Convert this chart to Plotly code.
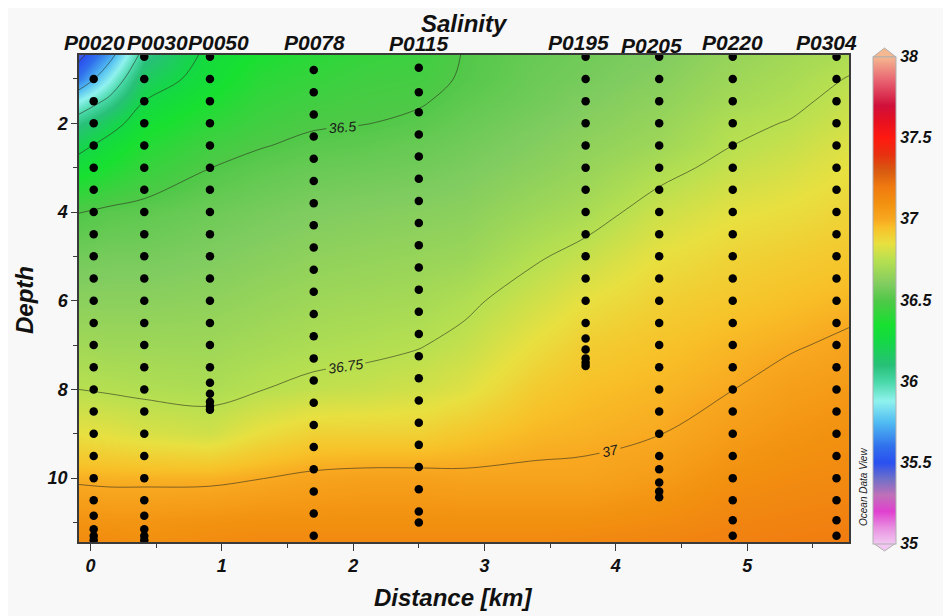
import plotly.graph_objects as go

# Salinity section (ODV style)
grid_dist = [-0.09, 0.15, 0.41, 0.91, 1.3, 1.7, 2.1, 2.5, 2.85, 3.4, 3.77, 4.33, 4.89, 5.33, 5.78]
grid_depth = [0.46, 1.0, 1.5, 2.0, 2.5, 3.0, 4.0, 5.0, 6.0, 7.0, 8.0, 9.0, 10.0, 11.0, 11.44]

# one row per depth, one column per distance
salinity = [
    [35.45, 35.70, 36.06, 36.29, 36.36, 36.40, 36.43, 36.45, 36.505, 36.55, 36.57, 36.60, 36.66, 36.69, 36.72],
    [35.62, 35.88, 36.17, 36.31, 36.40, 36.43, 36.46, 36.47, 36.51, 36.56, 36.58, 36.62, 36.68, 36.71, 36.755],
    [35.88, 36.04, 36.25, 36.36, 36.43, 36.46, 36.48, 36.49, 36.53, 36.57, 36.60, 36.64, 36.70, 36.73, 36.78],
    [36.08, 36.20, 36.32, 36.41, 36.46, 36.49, 36.498, 36.52, 36.55, 36.59, 36.62, 36.66, 36.73, 36.755, 36.80],
    [36.21, 36.30, 36.38, 36.46, 36.495, 36.52, 36.53, 36.55, 36.57, 36.61, 36.64, 36.68, 36.75, 36.78, 36.83],
    [36.31, 36.37, 36.43, 36.499, 36.53, 36.55, 36.56, 36.57, 36.59, 36.63, 36.66, 36.72, 36.78, 36.81, 36.85],
    [36.498, 36.52, 36.53, 36.56, 36.58, 36.60, 36.61, 36.62, 36.63, 36.68, 36.71, 36.79, 36.84, 36.86, 36.89],
    [36.57, 36.58, 36.58, 36.60, 36.62, 36.64, 36.65, 36.66, 36.67, 36.74, 36.78, 36.85, 36.89, 36.91, 36.93],
    [36.63, 36.63, 36.63, 36.64, 36.66, 36.68, 36.69, 36.70, 36.73, 36.80, 36.85, 36.90, 36.93, 36.95, 36.97],
    [36.69, 36.68, 36.68, 36.68, 36.70, 36.72, 36.73, 36.745, 36.775, 36.86, 36.91, 36.94, 36.97, 36.99, 37.02],
    [36.75, 36.74, 36.73, 36.72, 36.748, 36.77, 36.78, 36.80, 36.83, 36.92, 36.95, 36.97, 36.999, 37.04, 37.06],
    [36.85, 36.84, 36.82, 36.80, 36.86, 36.90, 36.90, 36.90, 36.93, 36.97, 36.98, 36.998, 37.05, 37.08, 37.10],
    [36.985, 36.98, 36.98, 36.98, 36.998, 37.02, 37.03, 37.03, 37.02, 37.02, 37.02, 37.05, 37.10, 37.12, 37.13],
    [37.09, 37.08, 37.08, 37.09, 37.10, 37.10, 37.10, 37.10, 37.10, 37.10, 37.10, 37.12, 37.15, 37.16, 37.17],
    [37.12, 37.12, 37.10, 37.12, 37.13, 37.13, 37.13, 37.13, 37.13, 37.13, 37.14, 37.15, 37.17, 37.18, 37.19],
]

# stations and their sample depths
stations = ["P0020", "P0030", "P0050", "P0078", "P0115", "P0195", "P0205", "P0220", "P0304"]
station_dist = [0.025, 0.41, 0.91, 1.70, 2.50, 3.77, 4.33, 4.89, 5.68]
station_depths = [
    [1.0, 1.5, 2.0, 2.5, 3.0, 3.5, 4.0, 4.5, 5.0, 5.5, 6.0, 6.5, 7.0, 7.5, 8.0, 8.5, 9.0, 9.5, 10.0, 10.5,
     10.85, 11.15, 11.3, 11.4],
    [0.5, 1.0, 1.5, 2.0, 2.5, 3.0, 3.5, 4.0, 4.5, 5.0, 5.5, 6.0, 6.5, 7.0, 7.5, 8.0, 8.5, 9.0, 9.5, 10.0, 10.5,
     10.85, 11.15, 11.3, 11.4],
    [0.5, 1.0, 1.5, 2.0, 2.5, 3.0, 3.5, 4.0, 4.5, 5.0, 5.5, 6.0, 6.5, 7.0, 7.5, 7.85, 8.1, 8.28, 8.38, 8.46],
    [0.8, 1.3, 1.8, 2.3, 2.8, 3.3, 3.8, 4.3, 4.8, 5.3, 5.8, 6.3, 6.8, 7.3, 7.8, 8.3, 8.8, 9.3, 9.8, 10.3,
     10.8, 11.3],
    [0.75, 1.3, 1.75, 2.25, 2.75, 3.25, 3.75, 4.25, 4.75, 5.25, 5.75, 6.25, 6.75, 7.25, 7.75, 8.25, 8.75, 9.25,
     9.75, 10.25, 10.75, 11.0],
    [0.5, 1.0, 1.5, 2.0, 2.5, 3.0, 3.5, 4.0, 4.5, 5.0, 5.5, 6.0, 6.5, 6.85, 7.1, 7.3, 7.4, 7.47],
    [0.5, 1.0, 1.5, 2.0, 2.5, 3.0, 3.5, 4.0, 4.5, 5.0, 5.5, 6.0, 6.5, 7.0, 7.5, 8.0, 8.5, 9.0, 9.5, 9.8, 10.1,
     10.3, 10.43],
    [0.5, 1.0, 1.5, 2.0, 2.5, 3.0, 3.5, 4.0, 4.5, 5.0, 5.5, 6.0, 6.5, 7.0, 7.5, 8.0, 8.5, 9.0, 9.5, 10.0, 10.5,
     10.95, 11.3],
    [0.5, 1.0, 1.5, 2.0, 2.5, 3.0, 3.5, 4.0, 4.5, 5.0, 5.5, 6.0, 6.5, 7.0, 7.5, 8.0, 8.5, 9.0, 9.5, 10.0, 10.5,
     10.95, 11.3],
]

# ODV keeps crowded station names apart; pixel offsets of the labels
label_xshift = [1, 13, 9, 1, 0, -7, -8, 0, -10]
label_yshift = [0, 0, 0, 0, -1, 0, -3, 0, 0]

zmin, zmax = 35.0, 38.0
cbar_ticks = [35, 35.5, 36, 36.5, 37, 37.5, 38]

# ODV-like palette
cs_points = [
    (35.00, "#f2c8f2"), (35.10, "#e890e0"), (35.20, "#e040d0"), (35.30, "#c070b8"),
    (35.40, "#7070c8"), (35.50, "#2a50f0"), (35.60, "#3070ec"), (35.75, "#50bcf2"),
    (35.88, "#90f2ee"), (36.00, "#48d8a8"), (36.10, "#28c078"), (36.25, "#14d844"),
    (36.35, "#18e030"), (36.50, "#50c848"), (36.60, "#80cc60"), (36.75, "#b8e050"),
    (36.85, "#e8e040"), (36.95, "#f8c028"), (37.00, "#f8a820"), (37.10, "#f29010"),
    (37.20, "#f07a10"), (37.30, "#d85a10"), (37.40, "#e83010"), (37.50, "#ff1a10"),
    (37.60, "#e81020"), (37.70, "#d0103a"), (37.85, "#e86070"), (38.00, "#f5b890"),
]
colorscale = [[(v - zmin) / (zmax - zmin), c] for v, c in cs_points]

# the page body has an 8px margin; the figure starts at (8, 8) in the window
OFF = 8
W, H = 951 - OFF, 616 - OFF
PLOT_L, PLOT_R, PLOT_T, PLOT_B = 79, 849, 55, 542   # in window pixels
ML, MT = PLOT_L - OFF, PLOT_T - OFF
MR, MB = W - (PLOT_R - OFF), H - (PLOT_B - OFF)
PW, PH = PLOT_R - PLOT_L, PLOT_B - PLOT_T


def px(x):
    return (x - PLOT_L) / PW


def py(y):
    return (PLOT_B - y) / PH


FONT = "Liberation Sans, Arial, sans-serif"
bi = dict(family=FONT, color="#111111", weight="bold", style="italic")

fig = go.Figure()

fig.add_trace(go.Contour(
    x=grid_dist, y=grid_depth, z=salinity,
    colorscale=colorscale, zmin=zmin, zmax=zmax, zauto=False,
    autocontour=False,
    contours=dict(start=35.5, end=37.0, size=0.25, coloring="heatmap",
                  showlabels=True, labelformat=".4~g",
                  labelfont=dict(family=FONT, size=14, color="#1a1a1a", style="italic")),
    line=dict(color="rgba(45,45,30,0.85)", width=0.7, smoothing=1),
    showscale=False, hoverinfo="skip",
))

# sample dots
xs, ys = [], []
for d, depths in zip(station_dist, station_depths):
    xs += [d] * len(depths)
    ys += depths
fig.add_trace(go.Scatter(
    x=xs, y=ys, mode="markers",
    marker=dict(color="black", size=8.5, line=dict(width=0)),
    showlegend=False, hoverinfo="skip", cliponaxis=True,
))

# colour bar carried by an empty trace so contour lines don't show in it
fig.add_trace(go.Scatter(
    x=[None, None], y=[None, None], mode="markers", showlegend=False,
    marker=dict(color=[zmin, zmax], colorscale=colorscale, cmin=zmin, cmax=zmax,
                showscale=True,
                colorbar=dict(
                    x=px(873), xanchor="left", xpad=0, ypad=0,
                    y=py(300), yanchor="middle",
                    thickness=23, lenmode="pixels", len=487,
                    outlinewidth=1, outlinecolor="#b0b0b0",
                    tickvals=cbar_ticks, ticktext=[f"{v:g}" for v in cbar_ticks],
                    ticks="", tickfont=dict(size=16, **bi),
                )),
))

# triangular ends of the colour bar
x0, x1 = px(873), px(896)
xm = (x0 + x1) / 2
fig.add_shape(type="path", xref="paper", yref="paper",
              path=f"M {x0} {py(57)} L {xm} {py(48)} L {x1} {py(57)} Z",
              fillcolor=cs_points[-1][1], line=dict(color="#b0b0b0", width=1))
fig.add_shape(type="path", xref="paper", yref="paper",
              path=f"M {x0} {py(543)} L {xm} {py(551)} L {x1} {py(543)} Z",
              fillcolor=cs_points[0][1], line=dict(color="#b0b0b0", width=1))

# station names along the top
for name, d, dx, dy in zip(stations, station_dist, label_xshift, label_yshift):
    fig.add_annotation(x=d, xref="x", y=py(42), yref="paper",
                       xanchor="center", yanchor="middle",
                       text=name, showarrow=False, xshift=dx, yshift=dy,
                       font=dict(size=21, **bi))


def label(text, x, y, size, angle=0, font=None):
    fig.add_annotation(x=px(x), y=py(y), xref="paper", yref="paper",
                       xanchor="center", yanchor="middle", textangle=angle,
                       text=text, showarrow=False,
                       font=font or dict(size=size, **bi))


label("Salinity", 465, 24, 24)
label("Depth", 24, 300, 24, angle=-90)
label("Distance [km]", 453, 597, 24)
label("Ocean Data View", 863, 487, 10, angle=-90,
      font=dict(family=FONT, size=10, color="#222222", style="italic"))

axis_common = dict(
    showgrid=False, zeroline=False, showline=True, mirror=True,
    linecolor="#3a3a3a", linewidth=1.5, ticks="outside",
    tickcolor="#3a3a3a", tickwidth=1.2, tickfont=dict(size=18, **bi),
)
fig.update_xaxes(range=[-0.087, 5.775], dtick=1, tick0=0, ticklen=7,
                 minor=dict(dtick=0.5, ticks="outside", ticklen=4, tickcolor="#3a3a3a"),
                 **axis_common)
fig.update_yaxes(range=[11.44, 0.46], dtick=2, tick0=0, ticklen=6,
                 minor=dict(dtick=1, ticks="outside", ticklen=4, tickcolor="#3a3a3a"),
                 **axis_common)

fig.update_layout(
    width=W, height=H,
    margin=dict(l=ML, r=MR, t=MT, b=MB),
    paper_bgcolor="#f8f8f8", plot_bgcolor="white",
    showlegend=False,
)

fig.write_html("out.html")
